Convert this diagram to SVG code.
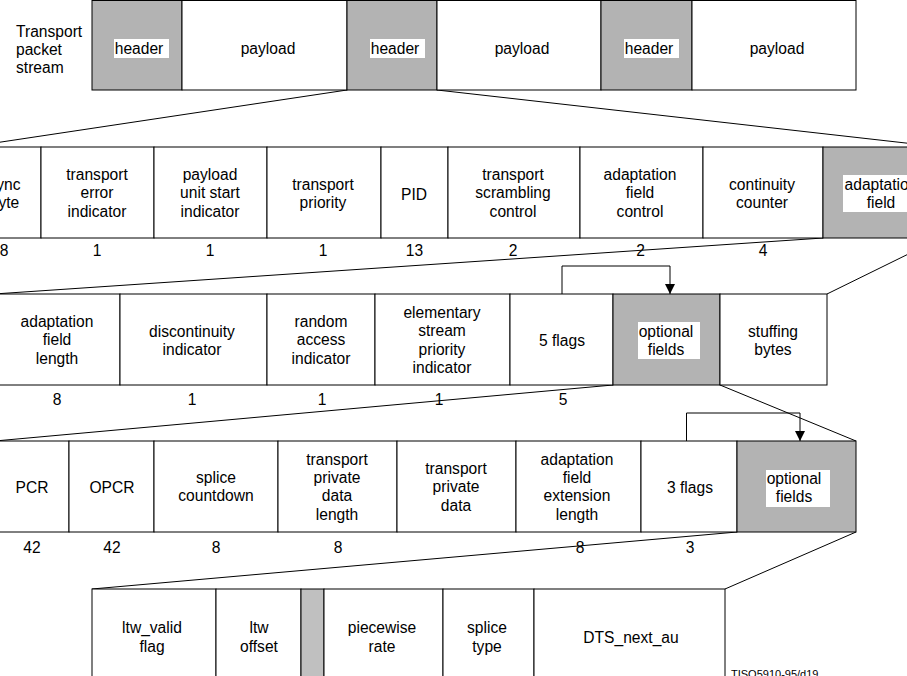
<svg xmlns="http://www.w3.org/2000/svg" width="907" height="676" viewBox="0 0 907 676">
<style>
text{font-family:"Liberation Sans",Arial,sans-serif;font-size:15.6px;fill:#000;text-anchor:middle}
.lbl{text-anchor:start}
.c{fill:#fff;stroke:#000;stroke-width:1}
.g{fill:#b3b3b3;stroke:#000;stroke-width:1}
.g2{fill:#c0c0c0;stroke:#000;stroke-width:1}
.wb{fill:#fff;stroke:none}
.ln{fill:none;stroke:#000;stroke-width:1}
.sm{font-size:11px;text-anchor:start}
</style>
<defs>
<marker id="ah" markerUnits="userSpaceOnUse" markerWidth="10" markerHeight="10" refX="10" refY="5" orient="auto">
<path d="M0,0 L10,5 L0,10 z" fill="#000"/>
</marker>
</defs>
<rect width="907" height="676" fill="#fff"/>

<g id="connectors">
<line class="ln" x1="347" y1="90" x2="-32" y2="147"/>
<line class="ln" x1="437" y1="90" x2="941" y2="147"/>
<line class="ln" x1="823" y1="238" x2="-6" y2="294"/>
<line class="ln" x1="941" y1="238" x2="827" y2="294"/>
<line class="ln" x1="613" y1="385" x2="-5" y2="441"/>
<line class="ln" x1="720" y1="385" x2="856" y2="441"/>
<line class="ln" x1="737" y1="532" x2="92" y2="589"/>
<line class="ln" x1="856" y1="532" x2="725" y2="589"/>
<polyline class="ln" points="562,294 562,266 670,266 670,294" marker-end="url(#ah)"/>
<polyline class="ln" points="686.5,441 686.5,413 800,413 800,441" marker-end="url(#ah)"/>
</g>

<g id="stream-label">
<text class="lbl" x="16" y="37">Transport</text>
<text class="lbl" x="16" y="55">packet</text>
<text class="lbl" x="16" y="73">stream</text>
</g>

<g id="row1">
<g id="r1-header1"><rect class="g" x="92" y="0.5" width="90" height="89.5"/><rect class="wb" x="114" y="39" width="55" height="19"/><text x="139" y="54">header</text></g>
<g id="r1-payload1"><rect class="c" x="182" y="0.5" width="165" height="89.5"/><text x="268" y="54">payload</text></g>
<g id="r1-header2"><rect class="g" x="347" y="0.5" width="90" height="89.5"/><rect class="wb" x="370" y="39" width="55" height="19"/><text x="395" y="54">header</text></g>
<g id="r1-payload2"><rect class="c" x="437" y="0.5" width="164" height="89.5"/><text x="522" y="54">payload</text></g>
<g id="r1-header3"><rect class="g" x="601" y="0.5" width="91" height="89.5"/><rect class="wb" x="624" y="39" width="55" height="19"/><text x="649" y="54">header</text></g>
<g id="r1-payload3"><rect class="c" x="692" y="0.5" width="164" height="89.5"/><text x="777" y="54">payload</text></g>
</g>

<g id="row2">
<g id="r2-sync"><rect class="c" x="-32" y="147" width="73" height="91"/><text x="4.5" y="189.5">sync</text><text x="4.5" y="208">byte</text></g>
<g id="r2-tei"><rect class="c" x="41" y="147" width="113" height="91"/><text x="97" y="180">transport</text><text x="97" y="198.3">error</text><text x="97" y="216.6">indicator</text></g>
<g id="r2-pusi"><rect class="c" x="154" y="147" width="113" height="91"/><text x="210" y="180">payload</text><text x="210" y="198.3">unit start</text><text x="210" y="216.6">indicator</text></g>
<g id="r2-tp"><rect class="c" x="267" y="147" width="114" height="91"/><text x="323" y="189.5">transport</text><text x="323" y="208">priority</text></g>
<g id="r2-pid"><rect class="c" x="381" y="147" width="67" height="91"/><text x="414" y="200">PID</text></g>
<g id="r2-tsc"><rect class="c" x="448" y="147" width="132" height="91"/><text x="513" y="180">transport</text><text x="513" y="198.3">scrambling</text><text x="513" y="216.6">control</text></g>
<g id="r2-afc"><rect class="c" x="580" y="147" width="123" height="91"/><text x="640" y="180">adaptation</text><text x="640" y="198.3">field</text><text x="640" y="216.6">control</text></g>
<g id="r2-cc"><rect class="c" x="703" y="147" width="120" height="91"/><text x="762" y="189.5">continuity</text><text x="762" y="208">counter</text></g>
<g id="r2-af"><rect class="g" x="823" y="147" width="118" height="91"/><rect class="wb" x="843" y="175" width="82" height="37"/><text x="881" y="189.5">adaptation</text><text x="881" y="208">field</text></g>
<g id="r2-bits"><text x="4" y="256">8</text><text x="97" y="256">1</text><text x="210" y="256">1</text><text x="323" y="256">1</text><text x="414.5" y="256">13</text><text x="513" y="256">2</text><text x="640.5" y="256">2</text><text x="763" y="256">4</text></g>
</g>

<g id="row3">
<g id="r3-afl"><rect class="c" x="-6" y="294" width="126" height="91"/><text x="57" y="327">adaptation</text><text x="57" y="345.3">field</text><text x="57" y="363.6">length</text></g>
<g id="r3-di"><rect class="c" x="120" y="294" width="147" height="91"/><text x="192" y="336.5">discontinuity</text><text x="192" y="354.8">indicator</text></g>
<g id="r3-rai"><rect class="c" x="267" y="294" width="108" height="91"/><text x="321" y="327">random</text><text x="321" y="345.3">access</text><text x="321" y="363.6">indicator</text></g>
<g id="r3-espi"><rect class="c" x="375" y="294" width="135" height="91"/><text x="442" y="318">elementary</text><text x="442" y="336.3">stream</text><text x="442" y="354.6">priority</text><text x="442" y="373">indicator</text></g>
<g id="r3-5flags"><rect class="c" x="510" y="294" width="103" height="91"/><text x="562" y="345.5">5 flags</text></g>
<g id="r3-opt"><rect class="g" x="613" y="294" width="107" height="91"/><rect class="wb" x="638" y="322" width="62" height="37"/><text x="666" y="336.5">optional</text><text x="666" y="354.8">fields</text></g>
<g id="r3-stuff"><rect class="c" x="720" y="294" width="107" height="91"/><text x="773" y="336.5">stuffing</text><text x="773" y="354.8">bytes</text></g>
<g id="r3-bits"><text x="57" y="405">8</text><text x="192" y="405">1</text><text x="322" y="405">1</text><text x="439" y="405">1</text><text x="563" y="405">5</text></g>
</g>

<g id="row4">
<g id="r4-pcr"><rect class="c" x="-5" y="441" width="74" height="91"/><text x="32" y="492.5">PCR</text></g>
<g id="r4-opcr"><rect class="c" x="69" y="441" width="85" height="91"/><text x="112" y="492.5">OPCR</text></g>
<g id="r4-sc"><rect class="c" x="154" y="441" width="124" height="91"/><text x="216" y="483">splice</text><text x="216" y="501.4">countdown</text></g>
<g id="r4-tpdl"><rect class="c" x="278" y="441" width="119" height="91"/><text x="337" y="465">transport</text><text x="337" y="483">private</text><text x="337" y="501.4">data</text><text x="337" y="519.7">length</text></g>
<g id="r4-tpd"><rect class="c" x="397" y="441" width="119" height="91"/><text x="456" y="474">transport</text><text x="456" y="492.3">private</text><text x="456" y="510.6">data</text></g>
<g id="r4-afel"><rect class="c" x="516" y="441" width="125" height="91"/><text x="577" y="465">adaptation</text><text x="577" y="483">field</text><text x="577" y="501.4">extension</text><text x="577" y="519.7">length</text></g>
<g id="r4-3flags"><rect class="c" x="641" y="441" width="96" height="91"/><text x="690" y="492.5">3 flags</text></g>
<g id="r4-opt"><rect class="g" x="737" y="441" width="119" height="91"/><rect class="wb" x="766" y="470" width="64" height="37"/><text x="794" y="484">optional</text><text x="794" y="502.3">fields</text></g>
<g id="r4-bits"><text x="32" y="553">42</text><text x="112" y="553">42</text><text x="216" y="553">8</text><text x="338" y="553">8</text><text x="580" y="553">8</text><text x="690" y="553">3</text></g>
</g>

<g id="row5">
<g id="r5-ltwvf"><rect class="c" x="92" y="589" width="124" height="95"/><text x="152" y="633.3">ltw_valid</text><text x="152" y="651.6">flag</text></g>
<g id="r5-ltwo"><rect class="c" x="216" y="589" width="85" height="95"/><text x="259" y="633.3">ltw</text><text x="259" y="651.6">offset</text></g>
<g id="r5-res"><rect class="g2" x="301" y="589" width="23" height="95"/></g>
<g id="r5-pr"><rect class="c" x="324" y="589" width="119" height="95"/><text x="382" y="633.3">piecewise</text><text x="382" y="651.6">rate</text></g>
<g id="r5-st"><rect class="c" x="443" y="589" width="91" height="95"/><text x="487" y="633.3">splice</text><text x="487" y="651.6">type</text></g>
<g id="r5-dts"><rect class="c" x="534" y="589" width="191" height="95"/><text x="631" y="642.5">DTS_next_au</text></g>
</g>

<text class="sm" x="731" y="678">TISO5910-95/d19</text>
</svg>
